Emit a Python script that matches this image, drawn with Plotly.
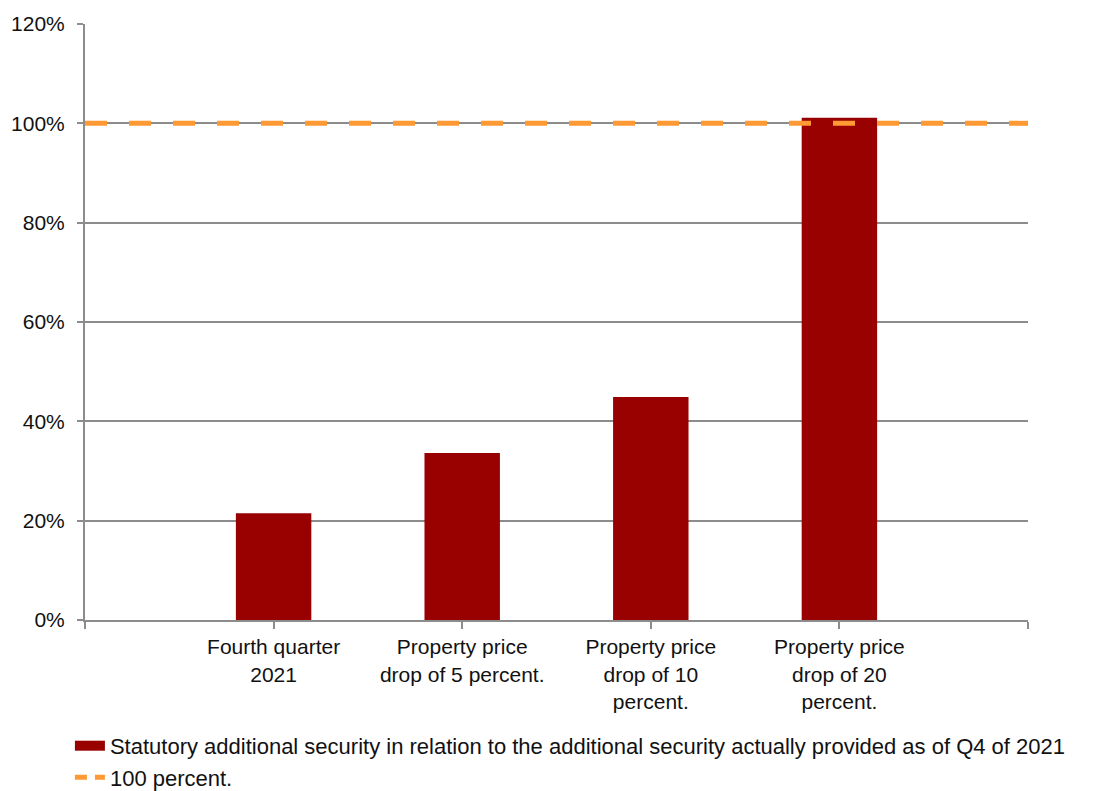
import plotly.graph_objects as go

categories = ["Fourth quarter<br>2021", "Property price<br>drop of 5 percent.",
              "Property price<br>drop of 10<br>percent.", "Property price<br>drop of 20<br>percent."]
positions = [1, 2, 3, 4]
bar_values = [21.5, 33.6, 44.9, 101.1]
line_x = [0, 5]
line_values = [100, 100]
bar_name = "Statutory additional security in relation to the additional security actually provided as of Q4 of 2021"
line_name = "100 percent."
y_ticks = [0, 20, 40, 60, 80, 100, 120]
y_labels = [f"{v}%" for v in y_ticks]

FONT = "Liberation Sans, Arial, sans-serif"
GRID = "#8c8c8c"
BAR_COLOR = "#990000"

fig = go.Figure()
fig.add_trace(go.Bar(x=positions, y=bar_values, width=0.4, name=bar_name, showlegend=False,
                     marker=dict(color=BAR_COLOR, line=dict(width=0))))
fig.add_trace(go.Scatter(x=line_x, y=line_values, mode="lines", name=line_name, showlegend=False,
                         line=dict(color="#FF9933", width=5, dash="22px,22px")))
# legend entries
fig.add_trace(go.Scatter(x=[None], y=[None], mode="lines", name=bar_name,
                         line=dict(color=BAR_COLOR, width=14)))
fig.add_trace(go.Scatter(x=[None], y=[None], mode="lines", name=line_name,
                         line=dict(color="#FF9933", width=5, dash="12px,8px")))

fig.update_layout(
    width=1110, height=791,
    margin=dict(l=85, r=82, t=24, b=171, autoexpand=False),
    paper_bgcolor="white", plot_bgcolor="white",
    font=dict(family=FONT, size=21, color="#111111"),
    showlegend=True,
    legend=dict(x=-0.016, y=-0.176, xanchor="left", yanchor="top",
                font=dict(size=22), tracegroupgap=0,
                bgcolor="rgba(0,0,0,0)"),
)
fig.update_xaxes(range=[0, 5], tickmode="array", tickvals=[0, 1, 2, 3, 4, 5],
                 ticktext=[""] + categories + [""], showgrid=False,
                 showline=True, linecolor=GRID, linewidth=2,
                 ticks="outside", ticklen=7, tickwidth=2, tickcolor=GRID,
                 tickfont=dict(size=21), zeroline=False)
fig.update_yaxes(range=[0, 120], tickmode="array", tickvals=y_ticks, ticktext=y_labels,
                 showgrid=True, gridcolor=GRID, gridwidth=2,
                 showline=True, linecolor=GRID, linewidth=2,
                 ticks="outside", ticklen=6, tickwidth=2, tickcolor=GRID,
                 ticklabelstandoff=8,
                 tickfont=dict(size=21), zeroline=False)

fig.write_html("out.html")
